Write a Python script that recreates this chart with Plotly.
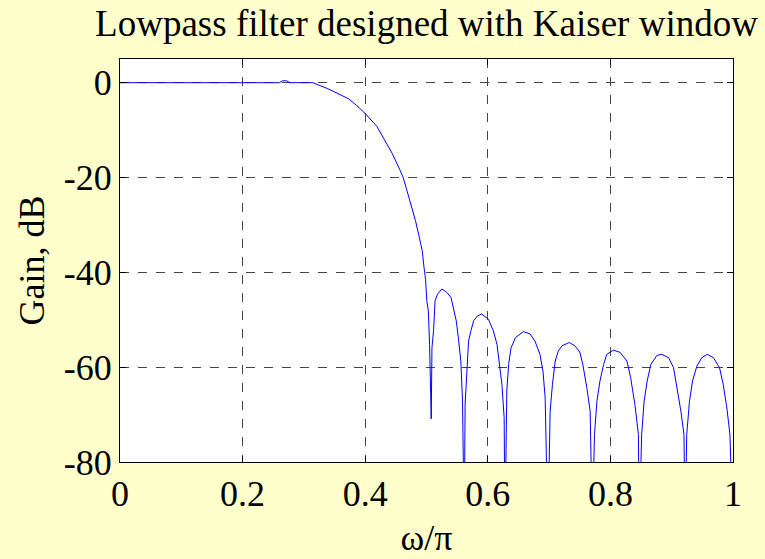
import plotly.graph_objects as go

# Normalized frequency (omega/pi) and gain (dB)
omega = [0.0, 0.1, 0.2, 0.26, 0.265, 0.272, 0.277, 0.315, 0.324, 0.338, 0.354, 0.373, 0.386,
         0.400, 0.419, 0.430, 0.444, 0.457, 0.462, 0.468, 0.476, 0.482, 0.487, 0.493, 0.496,
         0.4985, 0.5005, 0.503, 0.505, 0.5077, 0.5089, 0.5115, 0.514, 0.518, 0.525, 0.533,
         0.540, 0.544, 0.5485, 0.552, 0.556, 0.5588, 0.5615, 0.563, 0.566, 0.5686, 0.5725,
         0.577, 0.583, 0.590, 0.601, 0.609, 0.615, 0.619, 0.623, 0.6267, 0.628, 0.631, 0.634,
         0.638, 0.645, 0.658, 0.669, 0.677, 0.685, 0.690, 0.6936, 0.698, 0.7017, 0.7055, 0.710,
         0.715, 0.721, 0.733, 0.742, 0.750, 0.755, 0.7615, 0.767, 0.7706, 0.774, 0.778, 0.783,
         0.789, 0.794, 0.805, 0.816, 0.827, 0.833, 0.840, 0.8457, 0.847, 0.851, 0.855, 0.860,
         0.866, 0.876, 0.884, 0.895, 0.903, 0.909, 0.915, 0.920, 0.922, 0.9245, 0.929, 0.934,
         0.941, 0.949, 0.958, 0.968, 0.978, 0.984, 0.990, 0.995, 0.998, 1.0]
gain_db = [0, 0, 0, 0, 0.4, 0.4, 0, 0, -0.5, -1.2, -2.2, -3.4, -4.8,
           -6.5, -9.2, -11.8, -14.9, -18.5, -20.0, -22.7, -26.2, -29.1, -31.9, -35.4, -39.0,
           -41.5, -46.0, -48.1, -55.2, -70.9, -55.9, -52.3, -46.0, -44.6, -43.5, -44.2,
           -45.3, -47.4, -50.2, -53.8, -58.7, -67.2, -95, -67.8, -58.7, -54.5, -52.3,
           -50.2, -49.2, -48.8, -49.9, -52.3, -55.2, -59.4, -63.6, -70.7, -95, -65.0, -59.4,
           -55.9, -53.8, -52.5, -53.0, -54.5, -57.3, -60.8, -66.5, -95, -69.3, -63.6, -58.7,
           -56.6, -55.5, -54.8, -55.5, -56.8, -59.4, -64.3, -69.3, -95, -74.2, -67.2, -62.9,
           -59.4, -57.3, -56.4, -56.9, -58.7, -62.2, -67.9, -74.2, -95, -74.2, -67.2, -62.9,
           -59.4, -57.5, -57.3, -58.0, -60.1, -64.3, -69.3, -74.2, -95, -74.2, -67.2, -62.9,
           -59.8, -58.0, -57.3, -58.0, -60.1, -63.6, -68.6, -74.2, -95, -95]

x_tickvals = [0, 0.2, 0.4, 0.6, 0.8, 1]
x_ticktext = ["0", "0.2", "0.4", "0.6", "0.8", "1"]
y_tickvals = [-80, -60, -40, -20, 0]
y_ticktext = ["-80", "-60", "-40", "-20", "0"]

FONT = "Liberation Serif, Times New Roman, serif"

fig = go.Figure()
fig.add_trace(go.Scatter(x=omega, y=gain_db, mode="lines",
                         line=dict(color="#0000FF", width=1), showlegend=False))

axis_common = dict(
    showline=True, linecolor="black", linewidth=1, mirror="ticks",
    ticks="inside", ticklen=6, tickcolor="black",
    showgrid=True, gridcolor="#444444", gridwidth=1, griddash="dash",
    zeroline=False, automargin=False,
    tickfont=dict(family=FONT, size=36, color="black"),
)

fig.update_layout(
    width=765, height=559,
    paper_bgcolor="#FFFFCC", plot_bgcolor="white",
    margin=dict(l=120, r=32, t=59, b=97),
    title=dict(text="Lowpass filter designed with Kaiser window",
               font=dict(family=FONT, size=37, color="black"),
               x=0.5, xref="paper", xanchor="center",
               y=1 - 23 / 559, yref="container", yanchor="middle"),
    xaxis=dict(range=[0, 1], tickvals=x_tickvals, ticktext=x_ticktext,
               title=dict(text="ω/π", font=dict(family=FONT, size=36, color="black"),
                          standoff=11),
               **axis_common),
    yaxis=dict(range=[-80, 5], tickvals=y_tickvals, ticktext=y_ticktext,
               title=dict(text="Gain, dB", font=dict(family=FONT, size=36, color="black"),
                          standoff=8),
               **axis_common),
)

fig.write_html("out.html")
